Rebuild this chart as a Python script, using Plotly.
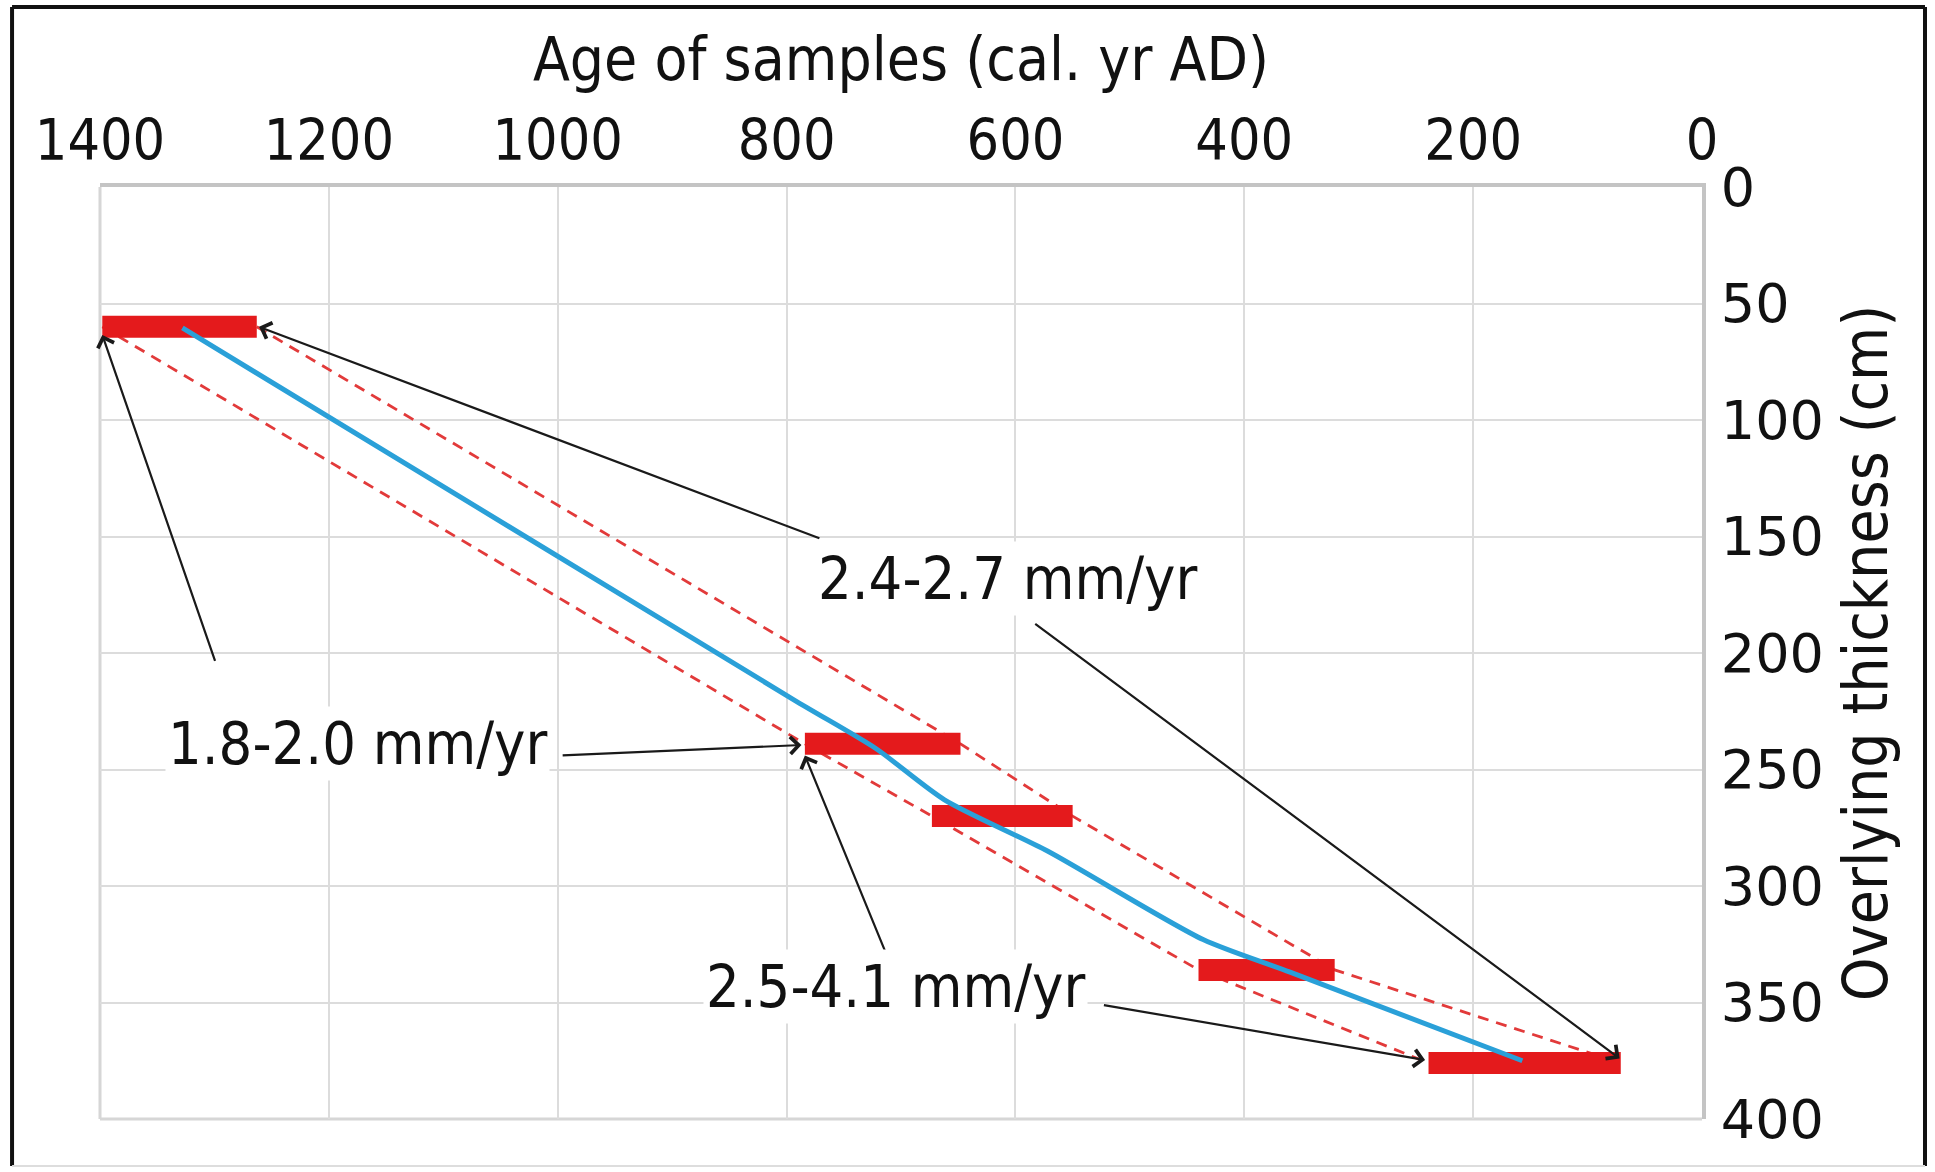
import plotly.graph_objects as go

# ---------------- data ----------------
sample_depth = [60, 239, 270, 336, 376]          # cm
age_old = [1398, 784, 673, 440, 239]             # cal. yr AD (older end)
age_young = [1263, 648, 550, 321, 71]            # cal. yr AD (younger end)

model_age = [1328, 794, 722, 662, 572, 436, 360, 157]
model_depth = [60.5, 220, 241, 263, 285, 323, 337, 375]

x_ticks = [1400, 1200, 1000, 800, 600, 400, 200, 0]
y_ticks = [0, 50, 100, 150, 200, 250, 300, 350, 400]

rate_labels = ["2.4-2.7 mm/yr", "1.8-2.0 mm/yr", "2.5-4.1 mm/yr"]
label_age = [607, 1175, 705]
label_depth = [168, 239, 343]

arrow_tail_age = [770, 584, 1299, 997, 713, 524]
arrow_tail_depth = [151, 187, 204, 244, 329, 351]
arrow_head_age = [1261, 72, 1398, 787, 784, 242]
arrow_head_depth = [60, 374, 63.5, 239.5, 244, 374.7]

# ---------------- styling ----------------
COND = "DejaVu Sans Condensed, Liberation Sans Narrow, DejaVu Sans, sans-serif"
WIDE = "DejaVu Sans, Verdana, sans-serif"
RED = "#e41a1c"
DASH_RED = "#e23a3a"
BLUE = "#2aa0d8"

fig = go.Figure()

# dashed envelope lines
for ages in (age_young, age_old):
    fig.add_trace(go.Scatter(x=ages, y=sample_depth, mode="lines",
                             line=dict(color=DASH_RED, width=2.8, dash="11px,8px"),
                             hoverinfo="skip"))

# red age ranges
bx, by = [], []
for d, a0, a1 in zip(sample_depth, age_old, age_young):
    bx += [a0, a1, None]
    by += [d, d, None]
fig.add_trace(go.Scatter(x=bx, y=by, mode="lines",
                         line=dict(color=RED, width=22), hoverinfo="skip"))

# age-depth model
fig.add_trace(go.Scatter(x=model_age, y=model_depth, mode="lines",
                         line=dict(color=BLUE, width=5, shape="spline", smoothing=0.7),
                         hoverinfo="skip"))

# arrows
for ta, td, ha, hd in zip(arrow_tail_age, arrow_tail_depth, arrow_head_age, arrow_head_depth):
    fig.add_annotation(x=ha, y=hd, ax=ta, ay=td, xref="x", yref="y",
                       axref="x", ayref="y", text="", showarrow=True,
                       arrowhead=4, arrowsize=1.5, arrowwidth=2.2,
                       arrowcolor="#1a1a1a", standoff=0, startstandoff=0)

# rate labels
for t, a, d in zip(rate_labels, label_age, label_depth):
    fig.add_annotation(x=a, y=d, xref="x", yref="y", text=t, showarrow=False,
                       font=dict(family=COND, size=59, color="#111111"),
                       bgcolor="white", borderpad=2)

# outer frame (black on left, top, right; light grey at the bottom)
frame_black = dict(color="#111111", width=4)
fig.add_shape(type="line", xref="paper", yref="paper", x0=-0.0549, x1=-0.0549,
              y0=-0.0504, y1=1.1931, line=frame_black, layer="below")
fig.add_shape(type="line", xref="paper", yref="paper", x0=-0.0549, x1=1.1392,
              y0=1.1931, y1=1.1931, line=frame_black, layer="below")
fig.add_shape(type="line", xref="paper", yref="paper", x0=1.1392, x1=1.1392,
              y0=-0.0504, y1=1.1931, line=frame_black, layer="below")
fig.add_shape(type="line", xref="paper", yref="paper", x0=-0.0549, x1=1.1392,
              y0=-0.0504, y1=-0.0504, line=dict(color="#dddddd", width=2), layer="below")
# plot borders on the left and bottom
fig.add_shape(type="line", xref="paper", yref="paper", x0=0, x1=0, y0=0, y1=1,
              line=dict(color="#d6d6d6", width=3), layer="below")
fig.add_shape(type="line", xref="paper", yref="paper", x0=0, x1=1, y0=0, y1=0,
              line=dict(color="#d6d6d6", width=3), layer="below")

fig.update_layout(
    width=1935, height=1172,
    margin=dict(l=100, r=233, t=187, b=53),
    paper_bgcolor="white", plot_bgcolor="white",
    showlegend=False,
    xaxis=dict(
        side="top", range=[1400, 0], tickvals=x_ticks,
        ticktext=[str(v) for v in x_ticks],
        showgrid=True, gridcolor="#dcdcdc", gridwidth=2,
        showline=True, linecolor="#c4c4c4", linewidth=4,
        zeroline=False, ticks="",
        tickfont=dict(family=COND, size=57, color="#111111"),
        title=dict(text="Age of samples (cal. yr AD)",
                   font=dict(family=COND, size=60, color="#111111"), standoff=8),
    ),
    yaxis=dict(
        side="right", range=[400, 0], tickvals=y_ticks,
        ticktext=[str(v) for v in y_ticks],
        showgrid=True, gridcolor="#dcdcdc", gridwidth=2,
        showline=True, linecolor="#c4c4c4", linewidth=4,
        zeroline=False, ticks="",
        tickfont=dict(family=WIDE, size=54, color="#111111"),
        ticklabelstandoff=4,
        title=dict(text="Overlying thickness (cm)",
                   font=dict(family=COND, size=62, color="#111111"), standoff=22),
    ),
)

fig.write_html("out.html")
